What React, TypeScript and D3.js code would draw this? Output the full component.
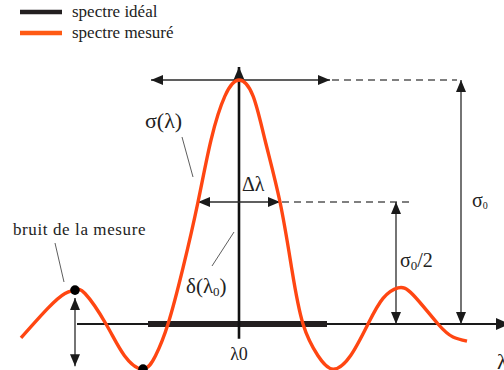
import React from "react";
import * as d3 from "d3";

// Measured spectrum σ(λ), λ expressed relative to λ0, amplitude normalised to σ0 = 1
const curveLambda = [-21.8, -19.1, -17.4, -16.4, -15.4, -13.3, -11.45, -9.6, -8.35, -7.1, -5.6, -4.1, -2.8, -1.4, 0, 1.4, 2.6, 4.1, 5.3, 6.4, 7.9, 9.4, 11.15, 12.9, 14.4, 15.9, 17.4, 19.9, 21.4, 22.8];
const curveSigma = [-0.057, 0.065, 0.125, 0.139, 0.125, 0, -0.13, -0.185, -0.13, 0, 0.23, 0.5, 0.754, 0.935, 1, 0.935, 0.754, 0.5, 0.22, 0, -0.13, -0.185, -0.13, 0, 0.105, 0.148, 0.12, 0, -0.053, -0.07];

// Ideal spectrum (band) limits
const idealBand = [-9.1, 8.8];
// Key values
const peakValue = 1;
const halfValue = 0.5;
const halfWidth = [-4.1, 4.1];
const noisePeak = { l: -16.4, s: 0.139 };
const noiseTrough = { l: -9.6, s: -0.185 };

const legendItems = ["spectre idéal", "spectre mesuré"];
const legendColors = ["#231f20", "#ff5a14"];

const W = 504;
const H = 370;
const ORANGE = "#ff4612";
const FONT = "Liberation Serif, DejaVu Serif, serif";

function T(props: any) {
  return <text fontFamily={FONT} fill="#222" {...props} />;
}

export default function App() {
  const x = d3.scaleLinear().domain([-16.2, 26.5]).range([77, 504]);
  const y = d3.scaleLinear().domain([0, 1]).range([324, 80]);

  const pts: [number, number][] = curveLambda.map((l, i) => [l, curveSigma[i]]);
  const line = d3
    .line<[number, number]>()
    .x((d) => x(d[0]))
    .y((d) => y(d[1]))
    .curve(d3.curveNatural);

  const arrowColor = "#2a2a2a";
  const dashColor = "#555";

  return (
    <div style={{ position: "absolute", left: 0, top: 0 }}>
      <svg width={W} height={H} style={{ display: "block" }}>
        <defs>
          <marker id="ah" viewBox="0 0 12 10" refX="12" refY="5" markerWidth="12" markerHeight="10" markerUnits="userSpaceOnUse" orient="auto-start-reverse">
            <path d="M0,0 L12,5 L0,10 Z" fill="#1a1a1a" />
          </marker>
          <marker id="ahBig" viewBox="0 0 14 12" refX="14" refY="6" markerWidth="14" markerHeight="12" markerUnits="userSpaceOnUse" orient="auto-start-reverse">
            <path d="M0,0 L14,6 L0,12 Z" fill="#1a1a1a" />
          </marker>
        </defs>

        {/* legend */}
        {legendItems.map((t, i) => (
          <g key={t}>
            <line x1={20} x2={62} y1={12 + i * 21} y2={12 + i * 21} stroke={legendColors[i]} strokeWidth={4.5} />
            <T x={72} y={17 + i * 21} fontSize={17}>
              {t}
            </T>
          </g>
        ))}

        {/* horizontal axis */}
        <line x1={x(-16.2)} x2={x(27.1)} y1={y(0)} y2={y(0)} stroke="#1a1a1a" strokeWidth={2} markerEnd="url(#ahBig)" />
        {/* ideal spectrum */}
        <line x1={x(idealBand[0])} x2={x(idealBand[1])} y1={y(0)} y2={y(0)} stroke="#231f20" strokeWidth={6} />

        {/* vertical axis at λ0 */}
        <line x1={x(0)} x2={x(0)} y1={y(-0.06)} y2={y(1.053)} stroke="#111" strokeWidth={2.6} markerEnd="url(#ahBig)" />

        {/* top double arrow and dashed line */}
        <line x1={x(-8.8)} x2={x(9.1)} y1={y(peakValue)} y2={y(peakValue)} stroke={arrowColor} strokeWidth={1.4} markerStart="url(#ah)" markerEnd="url(#ah)" />
        <line x1={x(9.3)} x2={x(21.8)} y1={y(peakValue)} y2={y(peakValue)} stroke={dashColor} strokeWidth={1.5} strokeDasharray="7,5" />

        {/* σ0 arrow */}
        <line x1={x(22.2)} x2={x(22.2)} y1={y(0)} y2={y(peakValue)} stroke={arrowColor} strokeWidth={1.3} markerStart="url(#ah)" markerEnd="url(#ah)" />
        <T x={x(23.3)} y={207} fontSize={20}>
          σ<tspan fontSize={10} dy={2}>0</tspan>
        </T>

        {/* Δλ arrow and dashed line */}
        <line x1={x(halfWidth[0])} x2={x(halfWidth[1])} y1={y(halfValue)} y2={y(halfValue)} stroke={arrowColor} strokeWidth={1.4} markerStart="url(#ah)" markerEnd="url(#ah)" />
        <line x1={x(halfWidth[1]) + 2} x2={x(17.4)} y1={y(halfValue)} y2={y(halfValue)} stroke={dashColor} strokeWidth={1.5} strokeDasharray="7,5" />
        <T x={x(0.3)} y={191} fontSize={20}>
          Δλ
        </T>

        {/* σ0/2 arrow */}
        <line x1={x(15.7)} x2={x(15.7)} y1={y(0)} y2={y(halfValue)} stroke={arrowColor} strokeWidth={1.3} markerStart="url(#ah)" markerEnd="url(#ah)" />
        <T x={x(16.1)} y={267} fontSize={20}>
          σ<tspan fontSize={13} dy={3}>0</tspan>
          <tspan dy={-3}>/2</tspan>
        </T>

        {/* measured spectrum */}
        <path d={line(pts) ?? ""} fill="none" stroke={ORANGE} strokeWidth={3.4} strokeLinejoin="round" />

        {/* noise annotation */}
        <line x1={x(noisePeak.l)} x2={x(noisePeak.l)} y1={y(noisePeak.s) + 8} y2={y(noiseTrough.s) - 3} stroke={arrowColor} strokeWidth={1.3} markerStart="url(#ah)" markerEnd="url(#ah)" />
        <circle cx={x(noisePeak.l)} cy={y(noisePeak.s)} r={4.8} fill="#000" />
        <circle cx={x(noiseTrough.l)} cy={y(noiseTrough.s)} r={4.8} fill="#000" />
        <T x={13} y={235} fontSize={17} letterSpacing={0.6}>
          bruit de la mesure
        </T>
        <line x1={55} y1={243} x2={64} y2={282} stroke="#333" strokeWidth={0.8} />

        {/* σ(λ) label */}
        <T x={145} y={128} fontSize={22}>
          σ(λ)
        </T>
        <line x1={182} y1={137} x2={193} y2={177} stroke="#333" strokeWidth={0.8} />

        {/* δ(λ0) label */}
        <T x={186} y={293} fontSize={21}>
          δ(λ<tspan fontSize={13} dy={3}>0</tspan>
          <tspan dy={-3}>)</tspan>
        </T>
        <line x1={212} y1={266} x2={234} y2={232} stroke="#333" strokeWidth={0.8} />

        {/* λ0 tick label and axis label */}
        <T x={x(0)} y={360} fontSize={18} textAnchor="middle">
          λ0
        </T>
        <T x={497} y={369} fontSize={22}>
          λ
        </T>
      </svg>
    </div>
  );
}
